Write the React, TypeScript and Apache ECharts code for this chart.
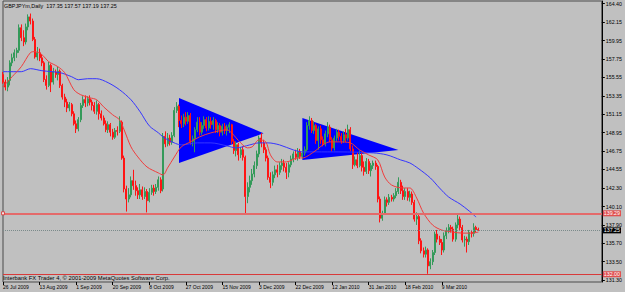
import React, { useEffect, useRef } from 'react';
import * as echarts from 'echarts';

const symbolName = 'GBPJPYm,Daily';
const headerQuote = '137.35 137.57 137.19 137.25';
const copyrightText = 'Interbank FX Trader 4, \u00a9 2001-2009 MetaQuotes Software Corp.';

const xTickLabels = [
  '26 Jul 2009', '13 Aug 2009', '1 Sep 2009', '20 Sep 2009', '8 Oct 2009', '27 Oct 2009',
  '15 Nov 2009', '3 Dec 2009', '22 Dec 2009', '12 Jan 2010', '31 Jan 2010', '18 Feb 2010', '9 Mar 2010',
];
const barsPerLabel = 16;
const totalSlots = 263;

const yTicks = [164.40, 162.15, 159.95, 157.75, 155.55, 153.35, 151.15, 148.95, 146.75, 144.55, 142.30, 140.10, 137.90, 135.70, 133.50, 131.30];

// [open, close, low, high]
const ohlc: number[][] = [
  [155.9, 155.0, 154.8, 156.2], [155.0, 154.4, 154.0, 155.3], [154.4, 155.2, 153.9, 155.6], [155.2, 157.3, 154.6, 157.6],
  [157.3, 157.9, 156.9, 158.4], [157.9, 158.5, 157.5, 158.9], [158.5, 158.8, 157.9, 159.1], [158.8, 161.5, 158.5, 161.9],
  [161.5, 160.3, 159.9, 161.9], [160.3, 159.8, 159.3, 161.2], [159.8, 161.6, 159.5, 162.0], [161.6, 162.8, 161.2, 163.1],
  [162.8, 162.3, 161.9, 163.2], [162.3, 160.1, 159.9, 162.6], [160.1, 158.0, 157.8, 160.4], [158.0, 158.5, 157.6, 159.2],
  [158.5, 157.9, 157.5, 159.0], [157.9, 157.3, 156.9, 158.3], [157.3, 155.3, 155.0, 157.5], [155.3, 154.6, 154.1, 155.8],
  [154.6, 157.0, 154.4, 157.4], [157.0, 155.0, 153.8, 157.2], [155.0, 156.2, 154.7, 156.7], [156.2, 155.9, 155.5, 156.5],
  [155.9, 156.3, 155.2, 156.8], [156.3, 154.6, 154.3, 156.5], [154.6, 153.2, 152.9, 154.8], [153.2, 152.6, 152.0, 153.6],
  [152.6, 151.9, 151.4, 153.0], [151.9, 152.3, 151.5, 152.6], [152.3, 151.2, 150.9, 152.5], [151.2, 150.0, 149.8, 151.5],
  [150.0, 149.4, 148.9, 150.4], [149.4, 150.5, 149.1, 150.8], [150.5, 152.2, 150.2, 152.5], [152.2, 152.9, 151.9, 153.3],
  [152.9, 152.5, 152.0, 153.4], [152.5, 153.0, 152.1, 153.3], [153.0, 152.6, 152.2, 153.4], [152.6, 152.2, 151.6, 152.9],
  [152.2, 151.5, 151.2, 152.6], [151.5, 152.3, 151.1, 152.8], [152.3, 151.2, 150.5, 152.5], [151.2, 150.7, 150.4, 151.6],
  [150.7, 150.0, 149.8, 151.0], [150.0, 149.3, 149.0, 150.4], [149.3, 149.9, 148.9, 150.3], [149.9, 149.0, 148.5, 150.1],
  [149.0, 148.4, 148.1, 149.4], [148.4, 149.2, 148.2, 149.5], [149.2, 149.1, 148.6, 149.7], [149.1, 150.2, 148.9, 150.9],
  [150.2, 145.9, 145.7, 150.4], [145.9, 142.2, 141.8, 146.2], [142.2, 141.0, 139.5, 142.6], [141.0, 141.5, 140.6, 142.3],
  [141.5, 143.2, 141.2, 143.7], [143.2, 142.6, 142.1, 144.5], [142.6, 142.0, 141.4, 143.2], [142.0, 141.5, 141.0, 142.4],
  [141.5, 142.1, 141.0, 142.8], [142.1, 141.3, 140.9, 142.5], [141.3, 141.9, 141.0, 142.4], [141.9, 140.8, 139.4, 142.2],
  [140.8, 141.8, 140.6, 142.3], [141.8, 142.3, 141.5, 142.7], [142.3, 141.9, 141.4, 142.7], [141.9, 142.4, 141.6, 142.8],
  [142.4, 143.3, 142.0, 143.7], [143.3, 142.0, 141.7, 143.6], [142.2, 148.5, 141.9, 148.9], [148.5, 147.6, 147.2, 149.1],
  [147.6, 148.3, 147.3, 148.9], [148.3, 147.8, 147.4, 148.7], [147.8, 148.6, 147.5, 149.0], [148.6, 151.6, 148.4, 152.0],
  [151.6, 152.1, 151.3, 152.6], [152.1, 150.4, 149.6, 152.3], [150.4, 150.0, 149.5, 151.0], [150.0, 150.8, 149.6, 151.2],
  [150.8, 150.3, 149.8, 151.4], [150.3, 151.0, 150.0, 151.4], [151.0, 147.9, 147.5, 151.3], [147.9, 148.2, 147.3, 148.6],
  [148.2, 149.3, 146.6, 149.6], [149.3, 150.2, 149.0, 150.8], [150.2, 149.0, 148.6, 150.8], [149.0, 149.8, 148.7, 150.2],
  [149.8, 150.5, 149.4, 150.9], [150.5, 149.5, 149.1, 150.8], [149.5, 150.3, 149.2, 150.9], [150.3, 149.9, 149.4, 150.8],
  [149.9, 150.4, 149.3, 150.8], [150.4, 149.3, 148.9, 150.6], [149.3, 149.8, 148.9, 150.2], [149.8, 149.0, 148.5, 150.1],
  [149.0, 149.7, 148.6, 150.0], [149.7, 149.2, 148.8, 150.1], [149.2, 149.6, 148.6, 149.9], [149.6, 149.9, 148.9, 150.2],
  [149.9, 147.9, 147.6, 150.0], [147.9, 146.8, 146.4, 148.2], [146.8, 147.5, 146.1, 147.9], [147.5, 146.3, 145.6, 147.7],
  [146.3, 146.9, 145.9, 147.2], [146.9, 146.0, 145.6, 147.3], [146.0, 141.3, 139.29, 146.2], [141.3, 142.4, 140.5, 143.0],
  [142.4, 143.2, 141.8, 143.8], [143.2, 144.0, 142.7, 144.6], [144.0, 145.0, 143.6, 145.5], [145.0, 146.4, 144.6, 146.8],
  [146.4, 148.3, 146.0, 148.6], [148.3, 147.7, 147.2, 148.9], [147.7, 146.9, 146.5, 148.1], [146.9, 145.9, 145.5, 147.2],
  [145.9, 143.6, 143.3, 146.2], [143.6, 143.0, 142.3, 144.2], [143.0, 143.9, 142.6, 144.3], [143.9, 144.5, 143.5, 145.0],
  [144.5, 144.2, 143.6, 145.1], [144.2, 145.0, 143.9, 145.4], [145.0, 145.3, 144.5, 145.8], [145.3, 144.8, 144.3, 145.7],
  [144.8, 144.2, 143.4, 145.3], [144.2, 145.1, 143.6, 145.4], [145.1, 145.8, 144.8, 146.2], [145.8, 146.4, 145.4, 146.7],
  [146.4, 146.0, 145.7, 146.9], [146.0, 146.7, 145.6, 147.1], [146.7, 146.1, 145.8, 147.0], [146.1, 146.5, 145.8, 146.9],
  [146.5, 146.9, 146.2, 147.3], [146.9, 149.8, 146.7, 150.2], [149.8, 150.4, 149.3, 150.9], [150.4, 149.2, 148.9, 150.7],
  [149.2, 149.8, 148.8, 150.3], [149.8, 148.0, 147.6, 150.0], [148.0, 149.4, 146.9, 149.7], [149.4, 148.1, 147.6, 149.8],
  [148.1, 147.6, 147.3, 148.5], [147.6, 148.8, 147.3, 149.2], [148.8, 149.6, 148.4, 150.2], [149.6, 148.1, 147.8, 149.9],
  [148.1, 147.1, 146.7, 148.4], [147.1, 148.3, 146.8, 148.6], [148.3, 149.0, 147.9, 149.4], [149.0, 148.5, 148.0, 149.3],
  [148.5, 148.0, 147.6, 148.9], [148.0, 148.7, 147.7, 149.1], [148.7, 148.3, 147.8, 149.4], [148.3, 149.3, 148.0, 149.9],
  [149.3, 147.0, 146.7, 149.6], [147.0, 145.1, 144.6, 147.4], [145.1, 145.7, 144.9, 146.1], [145.7, 145.0, 144.7, 146.6],
  [145.0, 146.2, 144.8, 146.8], [146.2, 144.8, 144.3, 146.5], [144.8, 144.3, 143.8, 145.5], [144.3, 145.5, 144.0, 145.9],
  [145.5, 144.4, 144.0, 145.8], [144.4, 145.0, 143.7, 145.3], [145.0, 145.3, 144.6, 145.6], [145.3, 144.9, 144.5, 145.6],
  [144.9, 141.0, 140.6, 145.1], [141.0, 138.7, 138.2, 141.3], [138.7, 139.3, 138.4, 139.6], [139.3, 140.9, 139.1, 141.3],
  [140.9, 140.6, 140.1, 141.2], [140.6, 141.2, 140.3, 141.6], [141.2, 141.0, 140.7, 141.5], [141.0, 141.4, 140.7, 141.7],
  [141.4, 141.9, 141.1, 142.3], [141.9, 143.0, 141.6, 143.6], [143.0, 142.0, 141.6, 143.3], [142.0, 141.3, 140.9, 142.6],
  [141.3, 141.9, 140.9, 142.3], [141.9, 141.2, 140.8, 142.3], [141.2, 141.6, 140.7, 142.0], [141.6, 140.6, 140.3, 141.9],
  [140.6, 138.6, 138.3, 140.9], [138.6, 138.9, 137.9, 139.4], [138.9, 136.0, 135.6, 139.2], [136.0, 134.8, 134.5, 136.3],
  [134.8, 134.4, 134.0, 135.2], [134.4, 134.9, 134.0, 135.3], [134.9, 133.0, 132.05, 135.1], [133.0, 133.5, 132.6, 133.9],
  [133.5, 134.6, 133.1, 134.9], [134.6, 136.8, 134.3, 137.1], [136.8, 136.2, 135.8, 137.3], [136.2, 135.8, 135.5, 136.6],
  [135.8, 134.9, 134.3, 136.2], [134.9, 136.6, 134.6, 137.0], [136.6, 137.2, 136.2, 137.6], [137.2, 137.6, 136.9, 138.0],
  [137.6, 137.4, 137.0, 137.9], [137.4, 136.2, 135.9, 137.7], [136.2, 137.9, 135.9, 138.2], [137.9, 138.6, 137.5, 139.3],
  [138.6, 137.6, 137.3, 138.9], [137.6, 136.1, 135.8, 137.9], [136.1, 136.2, 135.3, 136.6], [136.2, 135.9, 134.6, 136.5],
  [135.9, 137.0, 135.5, 137.3], [137.0, 136.9, 136.4, 137.3], [136.9, 137.6, 136.5, 138.1], [137.6, 137.35, 137.0, 137.8],
  [137.35, 137.25, 137.19, 137.57],
];

// fast moving average (red), [bar index, price]
const maFast: number[][] = [
  [0, 154.44], [4, 155.64], [8, 156.84], [12, 158.52], [14, 158.64], [17, 158.28], [20, 157.44], [24, 156.84],
  [27, 156.12], [31, 154.08], [34, 153.48], [38, 153.12], [41, 152.88], [44, 152.04], [48, 151.08], [51, 150.48],
  [53, 149.28], [56, 147.24], [59, 146.04], [63, 144.84], [68, 144.12], [70, 143.88], [72, 144.72], [75, 146.04],
  [78, 147.24], [82, 147.84], [86, 148.44], [91, 148.92], [98, 149.28], [100, 148.92], [104, 147.72], [107, 147.12],
  [109, 147.24], [112, 148.08], [115, 147.84], [117, 146.28], [120, 145.44], [124, 145.44], [129, 145.92], [131, 145.92],
  [136, 146.64], [140, 147.48], [143, 147.84], [147, 147.84], [152, 147.72], [156, 146.88], [160, 146.28], [164, 145.68],
  [167, 143.64], [170, 142.68], [175, 142.32], [178, 142.32], [181, 141.12], [184, 139.32], [188, 137.88], [192, 137.28],
  [197, 137.04], [201, 136.92], [205, 136.92], [208, 137.04],
];

// slow moving average (blue), [bar index, price]
const maSlow: number[][] = [
  [0, 156.24], [8, 156.24], [12, 156.6], [17, 156.36], [25, 156.12], [30, 155.64], [33, 155.28], [37, 155.4],
  [41, 155.4], [46, 154.92], [51, 154.08], [56, 152.88], [60, 151.44], [64, 149.76], [68, 148.92], [70, 148.44],
  [73, 147.96], [78, 147.48], [85, 147.72], [91, 147.72], [98, 147.36], [102, 147.12], [108, 147.48], [112, 147.72],
  [116, 147.72], [121, 147.48], [127, 146.88], [131, 146.64], [137, 146.64], [147, 146.64], [162, 146.52], [168, 146.28],
  [174, 145.68], [178, 145.32], [182, 144.6], [187, 143.52], [191, 142.32], [195, 141.24], [200, 140.4], [204, 139.56],
  [207, 138.84],
];

// triangle objects, vertices as [bar index, price]
const triangles: number[][][] = [
  [[76.5, 153.09], [113.5, 148.87], [76.5, 145.31]],
  [[131.3, 150.70], [173.1, 146.87], [131.3, 145.67]],
];

const supportLevel = 139.29;
const lowLevel = 132.0;
const lastPrice = 137.25;
const supportAnchorIndex = 0.4;

const GREEN = '#349a5a';
const RED = '#ff1414';

export default function App() {
  const ref = useRef<HTMLDivElement>(null);

  useEffect(() => {
    if (!ref.current) return;
    const chart = echarts.init(ref.current, undefined, { renderer: 'svg' });
    const categories = Array.from({ length: totalSlots }, (_, i) => String(i));
    const isTick = (idx: number) => idx % barsPerLabel === 0 && idx / barsPerLabel < xTickLabels.length;

    const option: any = {
      animation: false,
      backgroundColor: '#c0c0c0',
      textStyle: { fontFamily: 'Liberation Sans' },
      grid: {
        left: 2, right: 22, top: 1, bottom: 10,
        show: true, borderColor: '#4a4a4a', borderWidth: 1, backgroundColor: 'transparent',
      },
      xAxis: {
        type: 'category',
        data: categories,
        boundaryGap: false,
        axisLine: { show: false },
        axisTick: { show: true, interval: (idx: number) => isTick(idx), length: 3, lineStyle: { color: '#000' } },
        axisLabel: {
          show: true,
          interval: (idx: number) => isTick(idx),
          formatter: (_v: string, idx: number) => (isTick(idx) ? xTickLabels[idx / barsPerLabel] : ''),
          align: 'left',
          margin: 2,
          fontSize: 5,
          color: '#000',
          fontFamily: 'Liberation Sans',
        },
        splitLine: { show: false },
      },
      yAxis: {
        type: 'value',
        position: 'right',
        min: 131.07,
        max: 164.70,
        axisLine: { show: true, lineStyle: { color: '#000' } },
        axisTick: { show: true, length: 3, customValues: yTicks, lineStyle: { color: '#000' } },
        axisLabel: {
          show: true,
          customValues: yTicks,
          formatter: (v: number) => v.toFixed(2),
          margin: 4,
          fontSize: 5.3,
          color: '#000',
          fontFamily: 'Liberation Sans',
        },
        splitLine: { show: false },
      },
      graphic: [
        {
          type: 'text', left: 4, top: 3, silent: true,
          style: { text: `${symbolName}  ${headerQuote}`, fontSize: 5.4, fill: '#000', fontFamily: 'Liberation Sans' },
        },
        {
          type: 'text', left: 3, top: 275, silent: true, z: 10,
          style: { text: copyrightText, fontSize: 5.8, fill: '#000', fontFamily: 'Liberation Sans' },
        },
      ],
      series: [
        {
          type: 'custom',
          silent: true,
          z: 1,
          data: triangles.map((t, k) => [t[0][0], t[0][1], k]),
          encode: { x: 0, y: 1 },
          renderItem: (params: any, api: any) => {
            const tri = triangles[params.dataIndex];
            return {
              type: 'polygon',
              shape: { points: tri.map((v) => api.coord(v)) },
              style: { fill: '#0000ff' },
            };
          },
        },
        {
          type: 'candlestick',
          z: 3,
          data: ohlc,
          barWidth: 1.5,
          itemStyle: { color: GREEN, color0: RED, borderColor: GREEN, borderColor0: RED, borderWidth: 1 },
          markLine: {
            silent: true,
            animation: false,
            symbol: ['none', 'none'],
            data: [
              {
                yAxis: supportLevel,
                lineStyle: { color: '#e46a6a', width: 2, type: 'solid' },
                label: {
                  show: true, position: 'end', distance: 1, formatter: supportLevel.toFixed(2),
                  backgroundColor: '#e05050', color: '#fff', fontSize: 5.3, padding: [1, 1, 0, 1],
                },
              },
              {
                yAxis: lastPrice,
                lineStyle: { color: '#7a8a8a', width: 1, type: 'dotted' },
                label: {
                  show: true, position: 'end', distance: 1, formatter: lastPrice.toFixed(2),
                  backgroundColor: '#000', color: '#fff', fontSize: 5.3, padding: [1, 1, 0, 1],
                },
              },
              {
                yAxis: lowLevel,
                lineStyle: { color: '#d83a3a', width: 1, type: 'solid' },
                label: {
                  show: true, position: 'end', distance: 1, formatter: lowLevel.toFixed(2),
                  backgroundColor: '#e05050', color: '#fff', fontSize: 5.3, padding: [1, 1, 0, 1],
                },
              },
            ],
          },
        },
        {
          type: 'line',
          z: 4,
          data: maSlow,
          showSymbol: false,
          smooth: 0.3,
          silent: true,
          lineStyle: { color: '#3535ff', width: 1 },
        },
        {
          type: 'line',
          z: 4,
          data: maFast,
          showSymbol: false,
          smooth: 0.3,
          silent: true,
          lineStyle: { color: '#f03c3c', width: 1 },
        },
        {
          type: 'scatter',
          z: 6,
          silent: true,
          data: [[supportAnchorIndex, supportLevel]],
          symbol: 'rect',
          symbolSize: 3,
          itemStyle: { color: '#ffffff', borderColor: '#e03030', borderWidth: 1 },
        },
      ],
    };

    chart.setOption(option);
    return () => chart.dispose();
  }, []);

  return (
    <div
      ref={ref}
      style={{ position: 'fixed', left: 0, top: 0, width: 625, height: 292, background: '#c0c0c0' }}
    />
  );
}
